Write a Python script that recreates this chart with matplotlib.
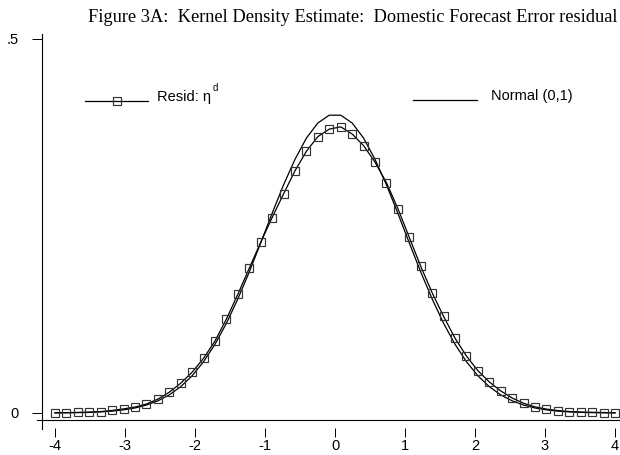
import matplotlib
matplotlib.use("Agg")
import matplotlib.pyplot as plt
from matplotlib.lines import Line2D

# Evaluation grid (50 points) and density estimates
grid = [-4.000, -3.837, -3.673, -3.510, -3.347, -3.184, -3.020, -2.857, -2.694, -2.531,
        -2.367, -2.204, -2.041, -1.878, -1.714, -1.551, -1.388, -1.224, -1.061, -0.898,
        -0.735, -0.571, -0.408, -0.245, -0.082, 0.082, 0.245, 0.408, 0.571, 0.735,
        0.898, 1.061, 1.224, 1.388, 1.551, 1.714, 1.878, 2.041, 2.204, 2.367,
        2.531, 2.694, 2.857, 3.020, 3.184, 3.347, 3.510, 3.673, 3.837, 4.000]

resid_density = [0.0004, 0.0005, 0.0008, 0.0012, 0.0019, 0.0034, 0.0055, 0.0080, 0.0120, 0.0185,
                 0.0278, 0.0398, 0.0545, 0.0730, 0.0962, 0.1255, 0.1585, 0.1935, 0.2280, 0.2610,
                 0.2925, 0.3235, 0.3495, 0.3690, 0.3790, 0.3820, 0.3725, 0.3570, 0.3350, 0.3075,
                 0.2730, 0.2345, 0.1960, 0.1605, 0.1290, 0.1000, 0.0760, 0.0565, 0.0415, 0.0295,
                 0.0200, 0.0130, 0.0082, 0.0052, 0.0032, 0.0020, 0.0013, 0.0009, 0.0006, 0.0004]

normal_density = [0.0001, 0.0003, 0.0005, 0.0008, 0.0015, 0.0025, 0.0042, 0.0067, 0.0106, 0.0162,
                  0.0242, 0.0352, 0.0497, 0.0685, 0.0918, 0.1198, 0.1523, 0.1885, 0.2272, 0.2666,
                  0.3046, 0.3388, 0.3671, 0.3872, 0.3976, 0.3976, 0.3872, 0.3671, 0.3388, 0.3046,
                  0.2666, 0.2272, 0.1885, 0.1523, 0.1198, 0.0918, 0.0685, 0.0497, 0.0352, 0.0242,
                  0.0162, 0.0106, 0.0067, 0.0042, 0.0025, 0.0015, 0.0008, 0.0005, 0.0003, 0.0001]

x_ticks = [-4, -3, -2, -1, 0, 1, 2, 3, 4]
x_tick_labels = ["-4", "-3", "-2", "-1", "0", "1", "2", "3", "4"]
y_ticks = [0, 0.5]
y_tick_labels = ["0", ".5"]

title = "Figure 3A:  Kernel Density Estimate:  Domestic Forecast Error residual"
label_resid = "Resid: \u03b7"
label_normal = "Normal (0,1)"

W, H = 620, 455
SANS = "Liberation Sans"
SERIF = "Liberation Serif"


def fx(px):
    return px / W


def fy(py):
    return 1 - py / H


fig = plt.figure(figsize=(W / 100, H / 100), dpi=100)
fig.patch.set_facecolor("white")

left_px, right_px, top_px, bottom_px = 41.5, 620.0, 34.0, 419.5
ax = fig.add_axes([fx(left_px), fy(bottom_px), (right_px - left_px) / W, (bottom_px - top_px) / H])
ax.set_facecolor("white")

ax.set_xlim(-4.1929, 4.0714)
ax.set_ylim(-0.00868, 0.50601)

ax.plot(grid, normal_density, color="black", lw=0.9, zorder=3)
ax.plot(grid, resid_density, color="black", lw=0.9, marker="s", ms=6,
        mfc="none", mec="#333333", mew=0.85, zorder=4)

for s in ax.spines.values():
    s.set_visible(False)
ax.spines["bottom"].set_position(("outward", 5.8))

ax.set_xticks(x_ticks)
ax.set_xticklabels(x_tick_labels, fontfamily=SANS, fontsize=10.5)
ax.set_yticks(y_ticks)
ax.set_yticklabels(y_tick_labels, fontfamily=SANS, fontsize=10.5)
ax.tick_params(axis="x", direction="out", length=6.5, width=0.7, pad=1.5, color="black")
ax.tick_params(axis="y", direction="out", length=7.2, width=0.7, pad=9.5, color="black")

# axis lines
ax.add_line(Line2D([0, 0], [1, -(429 - bottom_px) / (bottom_px - top_px)],
                   transform=ax.transAxes, color="black", lw=0.8, clip_on=False))
ax.add_line(Line2D([-(left_px - 37) / (right_px - left_px), 1], [0, 0],
                   transform=ax.transAxes, color="black", lw=0.8, clip_on=False))

# title
fig.text(fx(88), fy(18), title, fontfamily=SERIF, fontsize=13.2, ha="left", va="center")

# legend
fig.add_artist(Line2D([fx(85), fx(148)], [fy(101), fy(101)], color="black", lw=0.9))
fig.add_artist(Line2D([fx(117)], [fy(101)], marker="s", ms=6, mfc="none",
                      mec="#333333", mew=0.85, ls="none"))
fig.text(fx(157), fy(97), label_resid, fontfamily=SANS, fontsize=10.5, ha="left", va="center")
fig.text(fx(213), fy(88), "d", fontfamily=SANS, fontsize=7, ha="left", va="center")

fig.add_artist(Line2D([fx(413), fx(477)], [fy(100), fy(100)], color="black", lw=0.9))
fig.text(fx(491), fy(96), label_normal, fontfamily=SANS, fontsize=10.5, ha="left", va="center")

fig.savefig("out.png", dpi=100, facecolor="white")
